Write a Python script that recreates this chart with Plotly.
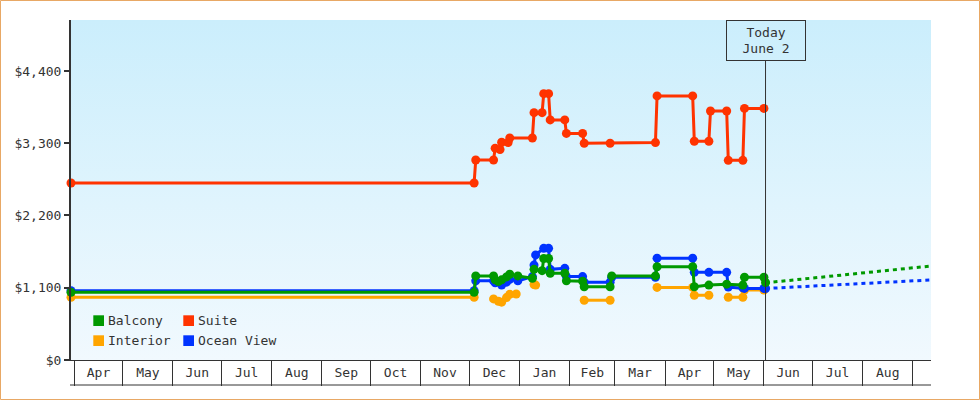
import base64
import plotly.graph_objects as go

# ---------------- data ----------------
suite_dates = ["2017-03-30", "2017-12-04", "2017-12-05", "2017-12-16", "2017-12-17", "2017-12-20",
               "2017-12-21", "2017-12-25", "2017-12-26", "2018-01-09", "2018-01-10", "2018-01-15",
               "2018-01-16", "2018-01-19", "2018-01-20", "2018-01-29", "2018-01-30", "2018-02-09",
               "2018-02-10", "2018-02-26", "2018-03-26", "2018-03-27", "2018-04-18", "2018-04-19",
               "2018-04-28", "2018-04-29", "2018-05-09", "2018-05-10", "2018-05-19", "2018-05-20",
               "2018-06-01"]
suite_prices = [2695, 2695, 3045, 3045, 3225, 3205,
                3315, 3310, 3380, 3380, 3765, 3765,
                4055, 4055, 3655, 3655, 3450, 3450,
                3300, 3300, 3310, 4020, 4020, 3330,
                3330, 3790, 3790, 3040, 3040, 3830,
                3830]

balcony_dates = ["2017-03-30", "2017-12-04", "2017-12-05", "2017-12-16", "2017-12-17", "2017-12-19",
                 "2017-12-21", "2017-12-24", "2017-12-26", "2017-12-31", "2018-01-09", "2018-01-10",
                 "2018-01-15", "2018-01-16", "2018-01-19", "2018-01-20", "2018-01-29", "2018-01-30",
                 "2018-02-09", "2018-02-10", "2018-02-26", "2018-02-27", "2018-03-26", "2018-03-27",
                 "2018-04-18", "2018-04-19", "2018-04-28", "2018-05-09", "2018-05-19", "2018-05-20",
                 "2018-06-01", "2018-06-02"]
balcony_prices = [1030, 1030, 1280, 1280, 1220, 1195,
                  1220, 1265, 1305, 1280, 1245, 1380,
                  1360, 1545, 1545, 1320, 1320, 1205,
                  1200, 1115, 1115, 1280, 1280, 1420,
                  1420, 1115, 1140, 1155, 1140, 1260,
                  1260, 1180]

ocean_dates = ["2017-03-30", "2017-12-04", "2017-12-05", "2017-12-16", "2017-12-17", "2017-12-21",
               "2017-12-24", "2017-12-26", "2017-12-31", "2018-01-09", "2018-01-10", "2018-01-11",
               "2018-01-16", "2018-01-19", "2018-01-20", "2018-01-29", "2018-01-30", "2018-02-09",
               "2018-02-10", "2018-02-26", "2018-02-27", "2018-03-26", "2018-03-27", "2018-04-18",
               "2018-04-19", "2018-04-28", "2018-05-09", "2018-05-10", "2018-05-19", "2018-05-20",
               "2018-06-01", "2018-06-02"]
ocean_prices = [1055, 1055, 1205, 1205, 1175, 1140,
                1185, 1230, 1205, 1270, 1445, 1600,
                1700, 1700, 1380, 1395, 1270, 1270,
                1185, 1185, 1260, 1260, 1550, 1550,
                1335, 1335, 1335, 1110, 1100, 1090,
                1090, 1088]

interior_dates = ["2017-03-30", "2017-12-04", "2017-12-10",
                  "2017-12-16", "2017-12-19", "2017-12-21", "2017-12-24", "2017-12-26", "2017-12-30", "2018-01-05",
                  "2018-01-10", "2018-01-11", "2018-01-25",
                  "2018-02-10", "2018-02-26", "2018-03-10",
                  "2018-03-27", "2018-04-18", "2018-04-19", "2018-04-28", "2018-05-04",
                  "2018-05-10", "2018-05-19", "2018-05-20", "2018-06-01"]
interior_prices = [955, 955, None,
                   930, 895, 880, 950, 1000, 1005, None,
                   1150, 1140, None,
                   910, 910, None,
                   1105, 1105, 985, 985, None,
                   955, 955, 1065, 1065]

balcony_fc_dates = ["2018-06-02", "2018-09-13"]
balcony_fc_prices = [1175, 1433]
ocean_fc_dates = ["2018-06-02", "2018-09-13"]
ocean_fc_prices = [1088, 1220]

legend_labels = ["Balcony", "Suite", "Interior", "Ocean View"]
y_ticks = [0, 1100, 2200, 3300, 4400]
y_tick_labels = ["$0", "$1,100", "$2,200", "$3,300", "$4,400"]
today_date = "2018-06-02"
today_text = "Today<br>June 2"

# ---------------- style ----------------
C_BAL = "#009900"
C_SUITE = "#ff3300"
C_INT = "#ffa500"
C_OCEAN = "#0033ff"
INK = "#333333"
FONT = "DejaVu Sans Mono"

W, H = 980, 400
L, R, T, B = 71, 49, 20, 40
PW, PH = W - L - R, H - T - B


def px(x):
    return (x - L) / PW


def py(y):
    return (H - B - y) / PH


fig = go.Figure()


def series(dates, prices, color):
    fig.add_trace(go.Scatter(
        x=dates, y=prices, mode="lines+markers",
        line=dict(color=color, width=3),
        marker=dict(color=color, size=9, symbol="circle"),
        connectgaps=False, cliponaxis=False, hoverinfo="skip"))


def forecast(dates, prices, color):
    fig.add_trace(go.Scatter(
        x=dates, y=prices, mode="lines",
        line=dict(color=color, width=3, dash="4px,4px"),
        hoverinfo="skip"))


forecast(balcony_fc_dates, balcony_fc_prices, C_BAL)
forecast(ocean_fc_dates, ocean_fc_prices, C_OCEAN)
series(interior_dates, interior_prices, C_INT)
series(ocean_dates, ocean_prices, C_OCEAN)
series(balcony_dates, balcony_prices, C_BAL)
series(suite_dates, suite_prices, C_SUITE)

# background gradient
svg = ('<svg xmlns="http://www.w3.org/2000/svg" width="860" height="340">'
       '<defs><linearGradient id="g" x1="0" y1="0" x2="0" y2="1">'
       '<stop offset="0" stop-color="#cbeefc"/><stop offset="1" stop-color="#f1f9fe"/>'
       '</linearGradient></defs><rect width="860" height="340" fill="url(#g)"/></svg>')
src = "data:image/svg+xml;base64," + base64.b64encode(svg.encode()).decode()

shapes = []
# outer border
shapes.append(dict(type="rect", xref="paper", yref="paper",
                   x0=px(0.5), x1=px(W - 0.5), y0=py(H - 0.5), y1=py(0.5),
                   line=dict(color="#e8a865", width=1), layer="below"))
# bottom line of month band
shapes.append(dict(type="line", xref="paper", yref="paper",
                   x0=px(70), x1=1, y0=py(385), y1=py(385),
                   line=dict(color=INK, width=1)))
# today line
shapes.append(dict(type="line", xref="x", yref="paper",
                   x0=today_date, x1=today_date, y0=0, y1=py(60.5),
                   line=dict(color=INK, width=1)))

annotations = [dict(x=today_date, xref="x", y=1, yref="paper", xanchor="center", yanchor="top",
                    text=today_text, showarrow=False, font=dict(family=FONT, size=13, color=INK),
                    bordercolor=INK, borderwidth=1, borderpad=0, width=78, height=39, bgcolor="rgba(0,0,0,0)")]

# manual legend
leg_colors = [C_BAL, C_SUITE, C_INT, C_OCEAN]
leg_sq_x = [93.3, 183.3, 93.3, 183.3]
leg_sq_y = [315.3, 315.3, 335.3, 335.3]
for lab, col, sx, sy in zip(legend_labels, leg_colors, leg_sq_x, leg_sq_y):
    shapes.append(dict(type="rect", xref="paper", yref="paper",
                       x0=px(sx), x1=px(sx + 10.7), y0=py(sy + 10.7), y1=py(sy),
                       fillcolor=col, line=dict(width=0)))
    annotations.append(dict(x=px(sx + 12.5), y=py(sy + 5.5), xref="paper", yref="paper",
                            xanchor="left", yanchor="middle", text=lab, showarrow=False,
                            font=dict(family=FONT, size=13, color=INK)))

fig.update_layout(
    width=W, height=H,
    margin=dict(l=L, r=R, t=T, b=B, pad=0),
    paper_bgcolor="white",
    plot_bgcolor="rgba(0,0,0,0)",
    showlegend=False,
    hovermode=False,
    font=dict(family=FONT, size=13, color=INK),
    images=[dict(source=src, xref="paper", yref="paper", x=0, y=1, sizex=1, sizey=1,
                 sizing="stretch", xanchor="left", yanchor="top", layer="below")],
    shapes=shapes,
    annotations=annotations,
    xaxis=dict(type="date", range=["2017-03-30", "2018-09-12 05:00"],
               tick0="2017-04-01", dtick="M1", tickformat="%b", ticklabelmode="period",
               ticks="outside", ticklen=25, tickwidth=1, tickcolor=INK,
               ticklabelstandoff=-25,
               showline=True, linecolor=INK, linewidth=1, showgrid=False, zeroline=False,
               tickfont=dict(family=FONT, size=13, color=INK)),
    yaxis=dict(range=[0, 5176], tickmode="array", tickvals=y_ticks, ticktext=y_tick_labels,
               ticks="outside", ticklen=5, tickwidth=2, tickcolor=INK,
               showline=True, linecolor=INK, linewidth=2, showgrid=False, zeroline=False,
               tickfont=dict(family=FONT, size=13, color=INK)),
)

fig.write_html("out.html")
